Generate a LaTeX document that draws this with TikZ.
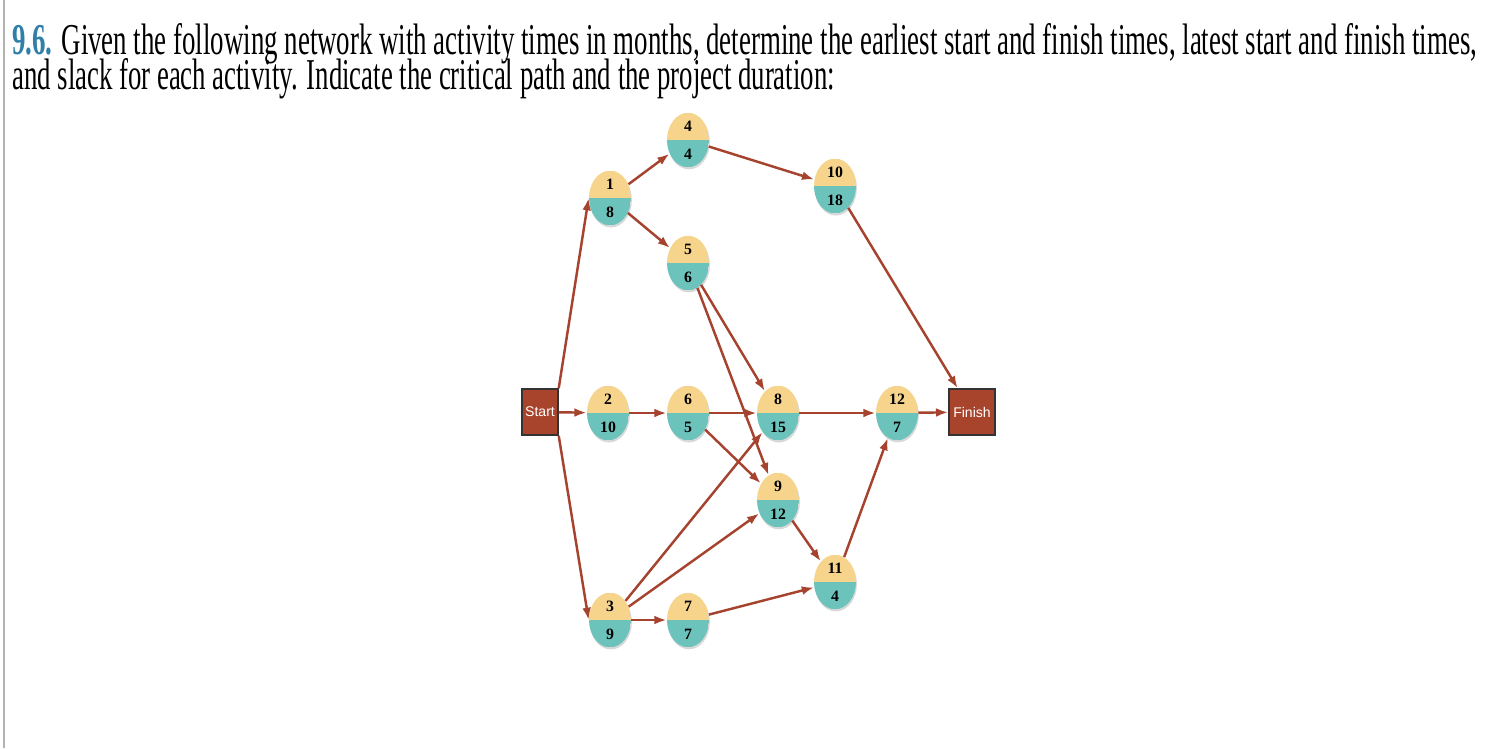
\documentclass[tikz,border=0pt]{standalone}
\usepackage{fontspec}
\setmainfont{Liberation Serif}
\usetikzlibrary{shapes.geometric,arrows.meta,shadows}
\definecolor{arr}{HTML}{A6432F}
\definecolor{ytop}{HTML}{F6D48C}
\definecolor{tbot}{HTML}{6CC3BC}
\definecolor{boxc}{HTML}{A8432C}
\definecolor{blu}{HTML}{2F7FA8}
\tikzset{x=0.02cm,y=-0.02cm,
 act/.style={ellipse,minimum width=0.84cm,minimum height=1.04cm,inner sep=0pt,align=center,
  font=\fontspec{Liberation Serif}\bfseries\fontsize{9}{16}\selectfont,
  path picture={\fill[ytop](path picture bounding box.north west) rectangle (path picture bounding box.east);
  \fill[tbot](path picture bounding box.west) rectangle (path picture bounding box.south east);},
  drop shadow={fill=gray!60,shadow xshift=0.5pt,shadow yshift=-1.2pt}},
 term/.style={draw=black!80,line width=0.8pt,fill=boxc,text=white,minimum height=0.92cm,inner sep=1pt,font=\fontspec{Liberation Sans}\fontsize{8}{9}\selectfont},
 con/.style={draw=arr,line width=1.4pt,-{Latex[length=7pt,width=5pt]}}}
\newcommand\actv[5]{\node[act] (#1) at (#2,#3) {#4\\#5};}
\begin{document}
\begin{tikzpicture}
\useasboundingbox (0,0) rectangle (1498,748);
\fill[white] (0,0) rectangle (1498,748);
\draw[gray!60,line width=1.2pt] (4,0) -- (4,748);
\node[anchor=west,inner sep=0] (t1) at (12,44) {\resizebox{29.3cm}{0.62cm}{\textcolor{blu}{\textbf{9.6.}} Given the following network with activity times in months, determine the earliest start and finish times, latest start and finish times,}};
\node[anchor=west,inner sep=0] (t2) at (12,79) {\resizebox{16.45cm}{0.62cm}{and slack for each activity. Indicate the critical path and the project duration:}};
\node[term,minimum width=0.72cm] (S) at (540,412) {Start};
\node[term,minimum width=0.92cm] (F) at (972,412) {Finish};
\actv{a1}{610}{198}{1}{8}
\actv{a4}{688}{140}{4}{4}
\actv{a10}{835}{186}{10}{18}
\actv{a5}{688}{263}{5}{6}
\actv{a2}{608}{413}{2}{10}
\actv{a6}{688}{413}{6}{5}
\actv{a8}{778}{413}{8}{15}
\actv{a12}{897}{413}{12}{7}
\actv{a9}{778}{500}{9}{12}
\actv{a11}{835}{582}{11}{4}
\actv{a3}{610}{620}{3}{9}
\actv{a7}{688}{620}{7}{7}
\draw[con] (S.north east) -- (a1.west);
\draw[con] (S) -- (a2);
\draw[con] (S.south east) -- (a3.west);
\draw[con] (a1) -- (a4);
\draw[con] (a1) -- (a5);
\draw[con] (a4) -- (a10);
\draw[con] (a5) -- (a8);
\draw[con] (a5) -- (a9);
\draw[con] (a2) -- (a6);
\draw[con] (a6) -- (a8);
\draw[con] (a6) -- (a9);
\draw[con] (a3) -- (a8);
\draw[con] (a3) -- (a9);
\draw[con] (a3) -- (a7);
\draw[con] (a7) -- (a11);
\draw[con] (a9) -- (a11);
\draw[con] (a8) -- (a12);
\draw[con] (a11) -- (a12);
\draw[con] (a12) -- (F);
\draw[con] (a10) -- (F);
\end{tikzpicture}
\end{document}
